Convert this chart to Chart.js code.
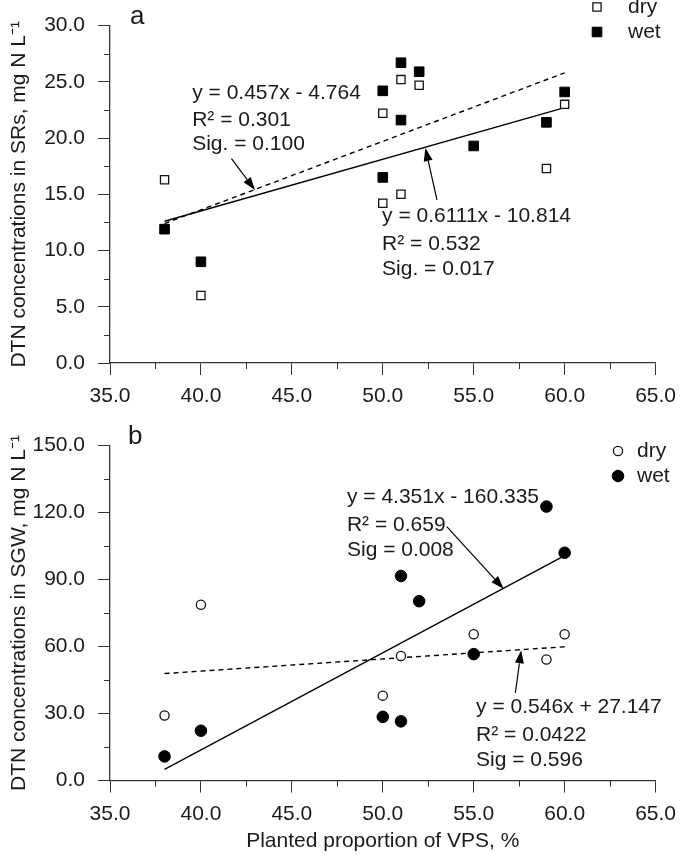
<!DOCTYPE html>
<html><head><meta charset="utf-8">
<script src="https://cdn.jsdelivr.net/npm/chart.js@4.4.1/dist/chart.umd.min.js"></script>
<style>
html,body{margin:0;padding:0;background:#fff;}
#wrap{width:685px;height:855px;position:relative;}
canvas{display:block;}
</style></head>
<body><div id="wrap">
<canvas id="ca" width="685" height="420"></canvas>
<canvas id="cb" width="685" height="435"></canvas>
</div>
<script>
// ---------- data ----------
const xTicks = [35, 40, 45, 50, 55, 60, 65];
const yTicksA = [0, 5, 10, 15, 20, 25, 30];
const yTicksB = [0, 30, 60, 90, 120, 150];

const xDryA = [38, 40, 50, 50, 51, 51, 52, 59, 60];
const yDryA = [16.3, 6.0, 22.2, 14.2, 25.2, 15.0, 24.7, 17.3, 23.0];
const xWetA = [38, 40, 50, 50, 51, 51, 52, 55, 59, 60];
const yWetA = [11.9, 9.0, 24.2, 16.5, 26.7, 21.6, 25.9, 19.3, 21.4, 24.1];

const xDryB = [38, 40, 50, 51, 55, 59, 60];
const yDryB = [29.1, 78.7, 38.0, 55.8, 65.5, 54.2, 65.5];
const xWetB = [38, 40, 50, 51, 51, 52, 55, 59, 60];
const yWetB = [10.8, 22.3, 28.5, 26.5, 91.6, 80.3, 56.6, 122.7, 102.0];

// fitted lines, endpoints
const fitX = [38, 60];
const fitSolidA = [12.6, 22.7];
const fitDashA = [12.4, 25.8];
const fitSolidB = [5.0, 100.7];
const fitDashB = [47.9, 59.9];

// annotation text blocks (data units: left x, line centre y's)
const notesA = [
  {x: 39.52, y: [24.03, 21.63, 19.45], lines: ["y = 0.457x - 4.764", "R\u00B2 = 0.301", "Sig. = 0.100"]},
  {x: 49.96, y: [13.01, 10.53, 8.37], lines: ["y = 0.6111x - 10.814", "R\u00B2 = 0.532", "Sig. = 0.017"]}
];
const notesB = [
  {x: 48.03, y: [126.7, 114.4, 103.1], lines: ["y = 4.351x - 160.335", "R\u00B2 = 0.659", "Sig = 0.008"]},
  {x: 55.13, y: [32.7, 20.4, 9.1], lines: ["y = 0.546x + 27.147", "R\u00B2 = 0.0422", "Sig = 0.596"]}
];
// arrows (data units): tail -> tip
const arrowsA = [
  {x1: 41.68, y1: 18.17, x2: 42.97, y2: 15.38},
  {x1: 52.98, y1: 14.51, x2: 52.34, y2: 19.12}
];
const arrowsB = [
  {x1: 53.52, y1: 113.7, x2: 56.64, y2: 85.9},
  {x1: 57.29, y1: 39.2, x2: 57.61, y2: 58.3}
];

// ---------- helpers ----------
const FONT = "'Liberation Sans', Arial, sans-serif";
const FS = 21;
const INK = '#1a1a1a';
const pts = (xs, ys) => xs.map((x, i) => ({x: x, y: ys[i]}));

function annotPlugin(notes, arrows, panelLabel, legend) {
  return {
    id: 'annot',
    afterDraw(chart) {
      const ctx = chart.ctx, sx = chart.scales.x, sy = chart.scales.y, ca = chart.chartArea;
      ctx.save();
      // minor ticks
      ctx.strokeStyle = '#333'; ctx.lineWidth = 1;
      const xt = sx.ticks.map(t => t.value);
      for (let i = 0; i < xt.length - 1; i++) {
        const v = (xt[i] + xt[i + 1]) / 2, px = Math.round(sx.getPixelForValue(v)) + 0.5;
        ctx.beginPath(); ctx.moveTo(px, ca.bottom); ctx.lineTo(px, ca.bottom + 6); ctx.stroke();
      }
      const yt = sy.ticks.map(t => t.value);
      for (let i = 0; i < yt.length - 1; i++) {
        const v = (yt[i] + yt[i + 1]) / 2, py = Math.round(sy.getPixelForValue(v)) + 0.5;
        ctx.beginPath(); ctx.moveTo(ca.left, py); ctx.lineTo(ca.left - 6, py); ctx.stroke();
      }
      // text blocks
      ctx.fillStyle = INK; ctx.font = FS + 'px ' + FONT;
      ctx.textAlign = 'left'; ctx.textBaseline = 'middle';
      notes.forEach(n => {
        n.lines.forEach((t, i) => ctx.fillText(t, sx.getPixelForValue(n.x), sy.getPixelForValue(n.y[i])));
      });
      // arrows
      ctx.strokeStyle = '#000'; ctx.fillStyle = '#000'; ctx.lineWidth = 1.2;
      arrows.forEach(a => {
        const x1 = sx.getPixelForValue(a.x1), y1 = sy.getPixelForValue(a.y1);
        const x2 = sx.getPixelForValue(a.x2), y2 = sy.getPixelForValue(a.y2);
        const ang = Math.atan2(y2 - y1, x2 - x1), L = 13, W = 4.5;
        const bx = x2 - L * Math.cos(ang), by = y2 - L * Math.sin(ang);
        ctx.beginPath(); ctx.moveTo(x1, y1); ctx.lineTo(bx, by); ctx.stroke();
        ctx.beginPath(); ctx.moveTo(x2, y2);
        ctx.lineTo(bx + W * Math.sin(ang), by - W * Math.cos(ang));
        ctx.lineTo(bx - W * Math.sin(ang), by + W * Math.cos(ang));
        ctx.closePath(); ctx.fill();
      });
      // panel label
      ctx.fillStyle = INK; ctx.font = '26px ' + FONT; ctx.textAlign = 'left'; ctx.textBaseline = 'middle';
      ctx.fillText(panelLabel.text, panelLabel.x, panelLabel.y);
      // legend
      ctx.font = FS + 'px ' + FONT;
      legend.items.forEach(it => {
        const ds = chart.data.datasets[it.ds];
        ctx.fillStyle = ds.backgroundColor; ctx.strokeStyle = ds.borderColor; ctx.lineWidth = ds.borderWidth;
        Chart.helpers.drawPoint(ctx, {pointStyle: ds.pointStyle, radius: it.r, borderWidth: ds.borderWidth}, legend.mx, it.y);
        ctx.fillStyle = INK;
        ctx.fillText(it.label, legend.tx, it.y);
      });
      ctx.restore();
    }
  };
}

function makeChart(id, cfg) {
  const tickFont = {family: FONT, size: FS};
  return new Chart(document.getElementById(id), {
    type: 'scatter',
    data: {datasets: cfg.datasets},
    options: {
      responsive: false, animation: false, devicePixelRatio: 1,
      layout: {padding: {top: cfg.padTop, right: 20, left: 0, bottom: 0}},
      plugins: {legend: {display: false}, tooltip: {enabled: false}},
      scales: {
        x: {
          type: 'linear', min: 35, max: 65,
          afterBuildTicks: s => { s.ticks = xTicks.map(v => ({value: v})); },
          afterFit: s => { s.height = cfg.xHeight; },
          border: {display: true, color: '#333', width: 1.3},
          grid: {display: true, drawOnChartArea: false, drawTicks: true, tickLength: 12, color: '#333', lineWidth: 1},
          ticks: {font: tickFont, color: INK, padding: 9, maxRotation: 0, callback: v => Number(v).toFixed(1)},
          title: cfg.xTitle ? {display: true, text: cfg.xTitle, font: {family: FONT, size: FS}, color: INK, padding: {top: 0, bottom: 1}} : {display: false}
        },
        y: {
          type: 'linear', min: cfg.yMin, max: cfg.yMax,
          afterBuildTicks: s => { s.ticks = cfg.yTicks.map(v => ({value: v})); },
          afterFit: s => { s.width = 110; },
          border: {display: true, color: '#333', width: 1.3},
          grid: {display: true, drawOnChartArea: false, drawTicks: true, tickLength: 12, color: '#333', lineWidth: 1},
          ticks: {font: tickFont, color: INK, padding: 13, callback: v => Number(v).toFixed(1)},
          title: {display: true, text: cfg.yTitle, font: {family: FONT, size: FS}, color: INK, padding: {top: 7, bottom: 0}}
        }
      }
    },
    plugins: [cfg.plugin]
  });
}

function lineDs(ys, dashed) {
  return {type: 'line', data: pts(fitX, ys), borderColor: '#000', borderWidth: 1.4,
    borderDash: dashed ? [5, 4] : [], pointRadius: 0, fill: false, showLine: true, tension: 0};
}

// ---------- panel a ----------
const dsA = [
  {label: 'dry', data: pts(xDryA, yDryA), pointStyle: 'rect', pointRadius: 5.8, backgroundColor: '#fff', borderColor: '#111', borderWidth: 1.3},
  {label: 'wet', data: pts(xWetA, yWetA), pointStyle: 'rect', pointRadius: 6.8, backgroundColor: '#000', borderColor: '#000', borderWidth: 1},
  lineDs(fitSolidA, false),
  lineDs(fitDashA, true)
];
makeChart('ca', {
  datasets: dsA, padTop: 16, xHeight: 57, yMin: 0, yMax: 30, yTicks: yTicksA,
  yTitle: 'DTN concentrations in SRs, mg N L\u207B\u00B9',
  plugin: annotPlugin(notesA, arrowsA, {text: 'a', x: 130, y: 17},
    {mx: 597, tx: 628, items: [{ds: 0, label: 'dry', y: 7, r: 5.8}, {ds: 1, label: 'wet', y: 32, r: 6.8}]})
});

// ---------- panel b ----------
const dsB = [
  {label: 'dry', data: pts(xDryB, yDryB), pointStyle: 'circle', pointRadius: 4.6, backgroundColor: '#fff', borderColor: '#111', borderWidth: 1.3},
  {label: 'wet', data: pts(xWetB, yWetB), pointStyle: 'circle', pointRadius: 5.8, backgroundColor: '#000', borderColor: '#000', borderWidth: 1},
  lineDs(fitSolidB, false),
  lineDs(fitDashB, true)
];
makeChart('cb', {
  datasets: dsB, padTop: 15, xHeight: 74.5, yMin: 0, yMax: 150, yTicks: yTicksB,
  yTitle: 'DTN concentrations in SGW, mg N L\u207B\u00B9',
  xTitle: 'Planted proportion of VPS, %',
  plugin: annotPlugin(notesB, arrowsB, {text: 'b', x: 128, y: 17},
    {mx: 618, tx: 637, items: [{ds: 0, label: 'dry', y: 31, r: 4.6}, {ds: 1, label: 'wet', y: 56, r: 5.8}]})
});
</script>
</body></html>
